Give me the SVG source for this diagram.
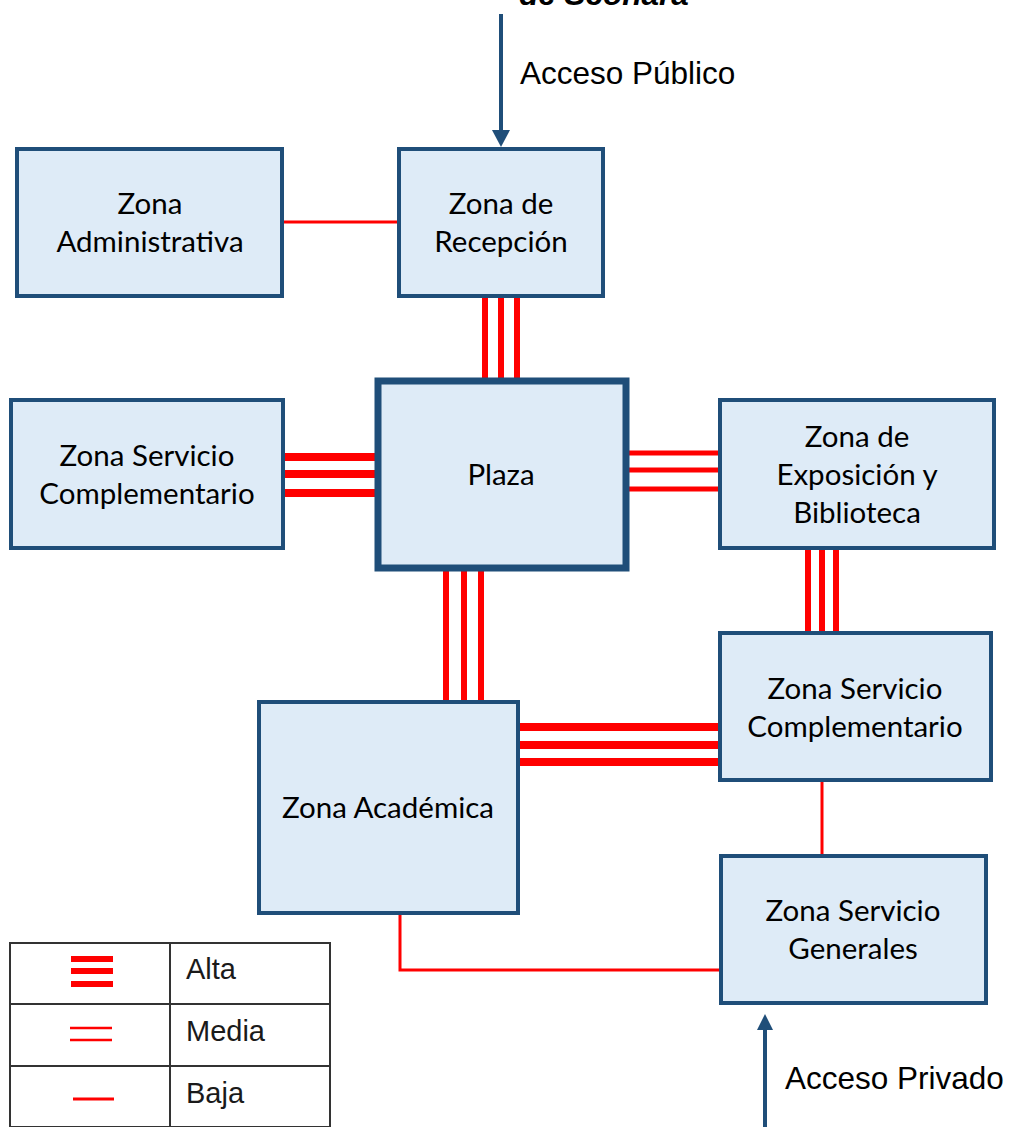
<svg xmlns="http://www.w3.org/2000/svg" width="1009" height="1127" viewBox="0 0 1009 1127">
<style>
.node{fill:#deebf7;stroke:#1f4e79;stroke-width:4}
.nt{font-family:Lato,"Noto Sans",sans-serif;font-size:29.5px;fill:#000;text-anchor:middle}
.lbl{font-family:"Liberation Sans",Arial,sans-serif;font-size:31.5px;fill:#000}
.leg{font-family:"Liberation Sans",Arial,sans-serif;font-size:29px;fill:#1a1a1a}
.alta{stroke:#ff0000;stroke-width:8}
.media{stroke:#ff0000;stroke-width:5}
.hi{stroke:#ff0000;stroke-width:6}
.baja{stroke:#ff0000;stroke-width:3;fill:none}
.acc{stroke:#1f4e79;stroke-width:4}
.grid{stroke:#333;stroke-width:2;fill:none}
</style>
<rect width="1009" height="1127" fill="#fff"/>
<text class="lbl" x="519" y="5" font-weight="bold" font-style="italic">de Sconara</text>
<g id="connectors">
<line class="acc" x1="501" y1="14" x2="501" y2="132"/>
<polygon points="492,130 510,130 501,147" fill="#1f4e79"/>
<line class="acc" x1="765" y1="1127" x2="765" y2="1030"/>
<polygon points="757,1030 773,1030 765,1014" fill="#1f4e79"/>
<line class="baja" x1="282" y1="222" x2="399" y2="222"/>
<line class="hi" x1="485" y1="296" x2="485" y2="381"/>
<line class="hi" x1="501" y1="296" x2="501" y2="381"/>
<line class="hi" x1="517" y1="296" x2="517" y2="381"/>
<line class="alta" x1="283" y1="457" x2="377" y2="457"/>
<line class="alta" x1="283" y1="474" x2="377" y2="474"/>
<line class="alta" x1="283" y1="493" x2="377" y2="493"/>
<line class="media" x1="626" y1="453" x2="721" y2="453"/>
<line class="media" x1="626" y1="470" x2="721" y2="470"/>
<line class="media" x1="626" y1="489" x2="721" y2="489"/>
<line class="hi" x1="808" y1="549" x2="808" y2="633"/>
<line class="hi" x1="822" y1="549" x2="822" y2="633"/>
<line class="hi" x1="836" y1="549" x2="836" y2="633"/>
<line class="hi" x1="446" y1="571" x2="446" y2="703"/>
<line class="hi" x1="464" y1="571" x2="464" y2="703"/>
<line class="hi" x1="481" y1="571" x2="481" y2="703"/>
<line class="alta" x1="518" y1="727" x2="720" y2="727"/>
<line class="alta" x1="518" y1="745" x2="720" y2="745"/>
<line class="alta" x1="518" y1="762" x2="720" y2="762"/>
<line class="baja" x1="822" y1="780" x2="822" y2="855"/>
<polyline class="baja" points="400,913 400,970 720,970"/>
</g>
<text class="lbl" x="520" y="84">Acceso Público</text>
<text class="lbl" x="785" y="1089">Acceso Privado</text>
<g id="n-admin">
<rect class="node" x="17" y="149" width="265" height="147"/>
<text class="nt" x="150" y="214">Zona</text>
<text class="nt" x="150" y="252">Administrativa</text>
</g>
<g id="n-recepcion">
<rect class="node" x="399" y="149" width="204" height="147"/>
<text class="nt" x="501" y="214">Zona de</text>
<text class="nt" x="501" y="252">Recepción</text>
</g>
<g id="n-plaza">
<rect class="node" x="378" y="381" width="248" height="187" style="stroke-width:7"/>
<text class="nt" x="501" y="485">Plaza</text>
</g>
<g id="n-zsc-left">
<rect class="node" x="11" y="400" width="272" height="148"/>
<text class="nt" x="147" y="466">Zona Servicio</text>
<text class="nt" x="147" y="504">Complementario</text>
</g>
<g id="n-exposicion">
<rect class="node" x="720" y="400" width="274" height="148"/>
<text class="nt" x="857" y="447">Zona de</text>
<text class="nt" x="857" y="485">Exposición y</text>
<text class="nt" x="857" y="523">Biblioteca</text>
</g>
<g id="n-zsc-right">
<rect class="node" x="720" y="633" width="271" height="147"/>
<text class="nt" x="855" y="699">Zona Servicio</text>
<text class="nt" x="855" y="737">Complementario</text>
</g>
<g id="n-academica">
<rect class="node" x="259" y="702" width="259" height="211"/>
<text class="nt" x="388" y="818">Zona Académica</text>
</g>
<g id="n-zsg">
<rect class="node" x="721" y="856" width="265" height="147"/>
<text class="nt" x="853" y="921">Zona Servicio</text>
<text class="nt" x="853" y="959">Generales</text>
</g>
<g id="legend">
<rect class="grid" x="10" y="943" width="320" height="184"/>
<line class="grid" x1="170" y1="943" x2="170" y2="1127"/>
<line class="grid" x1="10" y1="1004" x2="330" y2="1004"/>
<line class="grid" x1="10" y1="1066" x2="330" y2="1066"/>
<line stroke="#ff0000" stroke-width="6" x1="71" y1="959" x2="113" y2="959"/>
<line stroke="#ff0000" stroke-width="6" x1="71" y1="971" x2="113" y2="971"/>
<line stroke="#ff0000" stroke-width="6" x1="71" y1="984" x2="113" y2="984"/>
<line stroke="#ff0000" stroke-width="2.5" x1="70" y1="1028" x2="112" y2="1028"/>
<line stroke="#ff0000" stroke-width="2.5" x1="70" y1="1040" x2="112" y2="1040"/>
<line stroke="#ff0000" stroke-width="3" x1="73" y1="1099" x2="114" y2="1099"/>
<text class="leg" x="186" y="979">Alta</text>
<text class="leg" x="186" y="1041">Media</text>
<text class="leg" x="186" y="1103">Baja</text>
</g>
</svg>
